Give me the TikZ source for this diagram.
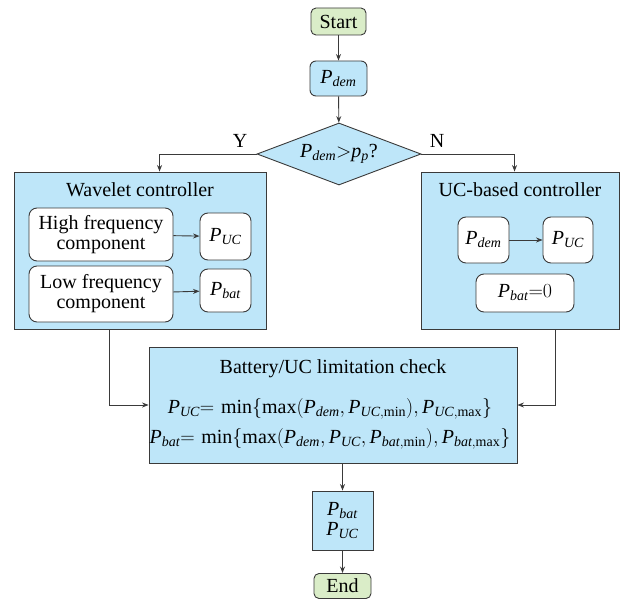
\documentclass[tikz,border=0pt]{standalone}
\usepackage{fix-cm}
\usepackage{amsmath}
\usepackage{fontspec}
\setmainfont{Liberation Serif}
\usetikzlibrary{arrows.meta,shapes.geometric}

\definecolor{boxblue}{HTML}{BEE6F9}
\definecolor{termgreen}{HTML}{DAEDC8}
\definecolor{edge}{HTML}{3A3A3A}

\newcommand{\Pv}[1]{\mathit{P}_{\mathit{#1}}}
\newcommand{\Plim}[2]{\mathit{P}_{\mathit{#1},\mathrm{#2}}}

\begin{document}
\begin{tikzpicture}[x=1pt,y=-1pt,
  every node/.style={font=\fontsize{20}{22}\selectfont, inner sep=0pt, text=black},
  terminal/.style={draw=edge, line width=0.9pt, fill=termgreen, rounded corners=5pt},
  bluebox/.style={draw=edge, line width=0.9pt, fill=boxblue},
  ctrlbox/.style={draw=edge, line width=0.9pt, fill=boxblue},
  innerbox/.style={draw=edge, line width=0.9pt, fill=white, rounded corners=8pt, align=center},
  flow/.style={draw=edge, line width=0.9pt, -{Stealth[length=6.5pt,width=5pt]}},
  title/.style={text=black}
]
\useasboundingbox (0,0) rectangle (633,602);

% terminals and top of the chart
\node[terminal, minimum width=55pt, minimum height=27pt] (start) at (338.5,21.5) {Start};
\node[bluebox, rounded corners=6pt, minimum width=57pt, minimum height=35pt] (pdem) at (338.5,78.5) {$\Pv{dem}$};
\node[bluebox, diamond, aspect=2.65, minimum width=164pt, minimum height=62pt] (dec) at (339,154) {$\Pv{dem}{>}\mathit{p}_{\mathit{p}}$?};

% wavelet controller
\node[ctrlbox, minimum width=252pt, minimum height=157pt] (wav) at (140,250.5) {};
\node[title] (wavt) at (140,190) {Wavelet controller};
\node[innerbox, minimum width=144pt, minimum height=53pt] (hf) at (101,234.5) {High frequency\\[-2pt]component};
\node[innerbox, minimum width=144pt, minimum height=56pt] (lf) at (101,294) {Low frequency\\[-2pt]component};
\node[innerbox, minimum width=51pt, minimum height=47pt] (puca) at (225.5,236.5) {$\Pv{UC}$};
\node[innerbox, minimum width=51pt, minimum height=43pt] (pbata) at (225.5,290.5) {$\Pv{bat}$};

% UC-based controller
\node[ctrlbox, minimum width=198pt, minimum height=157pt] (uc) at (520,250.5) {};
\node[title] (uct) at (520,190) {UC-based controller};
\node[innerbox, minimum width=51pt, minimum height=46pt] (pdemb) at (483.5,240) {$\Pv{dem}$};
\node[innerbox, minimum width=50pt, minimum height=46pt] (pucb) at (568,240) {$\Pv{UC}$};
\node[innerbox, minimum width=98pt, minimum height=38pt] (pbatz) at (525,293) {$\Pv{bat}{=}0$};

% limitation check
\node[ctrlbox, minimum width=368pt, minimum height=116pt] (bat) at (333,405) {};
\node[title] (batt) at (333,369) {Battery/UC limitation check};
\node (eqa) at (330,409) {$\Pv{UC}{=}\,\min\{\max(\Pv{dem},\Plim{UC}{min}),\Plim{UC}{max}\}$};
\node (eqb) at (330,439) {$\Pv{bat}{=}\,\min\{\max(\Pv{dem},\Pv{UC},\Plim{bat}{min}),\Plim{bat}{max}\}$};

% outputs and end
\node[bluebox, minimum width=61pt, minimum height=59pt, align=center] (out) at (342.5,520.5) {$\Pv{bat}$\\[-2pt]$\Pv{UC}$};
\node[terminal, minimum width=57pt, minimum height=25pt] (end) at (342.5,586) {End};

% connectors
\draw[flow] (start) -- (pdem);
\draw[flow] (pdem) -- (dec);
\draw[flow] (dec.west) -| ([xshift=146pt]wav.north west);
\draw[flow] (dec.east) -| ([xshift=94pt]uc.north west);
\node (ylab) at (240,141) {Y};
\node (nlab) at (437,141) {N};
\draw[flow] (hf) -- (puca);
\draw[flow] (lf) -- (pbata);
\draw[flow] (pdemb) -- (pucb);
\draw[flow] ([xshift=96pt]wav.south west) |- (bat.west);
\draw[flow] ([xshift=135pt]uc.south west) |- (bat.east);
\draw[flow] (out.north |- bat.south) -- (out.north);
\draw[flow] (out) -- (end);
\end{tikzpicture}
\end{document}
